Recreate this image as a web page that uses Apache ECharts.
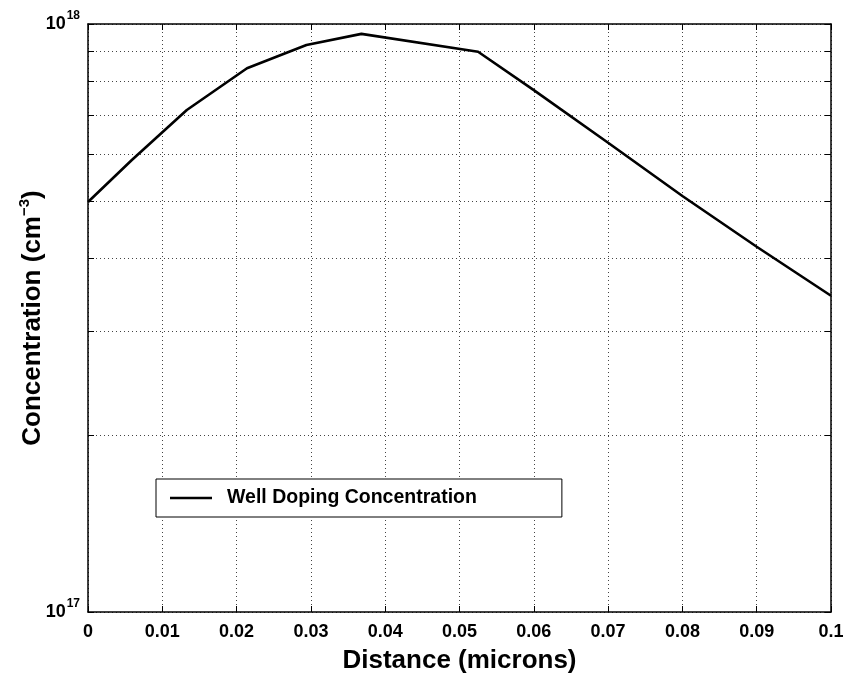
<!DOCTYPE html>
<html>
<head>
<meta charset="utf-8">
<title>Well Doping Concentration</title>
<script src="https://cdn.jsdelivr.net/npm/echarts@6/dist/echarts.min.js"></script>
<style>
  html, body { margin: 0; padding: 0; background: #fff; }
  #chart { width: 844px; height: 679px; }
</style>
</head>
<body>
<div id="chart"></div>
<script>
// Well doping profile: depth (microns) vs. concentration (cm^-3)
const distance = [0, 0.0059, 0.0133, 0.0214, 0.0294, 0.0368, 0.0525, 0.06, 0.07, 0.08, 0.09, 0.1];
const concentration = [4.98e17, 5.87e17, 7.14e17, 8.41e17, 9.21e17, 9.62e17, 8.97e17, 7.72e17, 6.28e17, 5.10e17, 4.18e17, 3.45e17];
const seriesName = 'Well Doping Concentration';
const xTicks = [0, 0.01, 0.02, 0.03, 0.04, 0.05, 0.06, 0.07, 0.08, 0.09, 0.1];
const decadeMin = 1e17;
const decadeMax = 1e18;
// mantissas of the per-decade grid lines (1e17 ... 1e18)
const decadeSteps = [1, 2, 3, 4, 5, 6, 7, 8, 9, 10];

const FONT = '"Liberation Sans", Arial, Helvetica, sans-serif';
const expMin = Math.log10(decadeMin);
const gridExponents = decadeSteps.map(m => expMin + Math.log10(m));

const chart = echarts.init(document.getElementById('chart'), null, { renderer: 'canvas' });

const dotted = { color: '#444', width: 1, type: [1, 3] };
const tickStyle = { show: true, inside: true, length: 6, lineStyle: { color: '#000', width: 1 } };

chart.setOption({
  animation: false,
  backgroundColor: '#fff',
  grid: { left: 88, top: 24, right: 13, bottom: 67, containLabel: false, outerBoundsMode: 'none' },
  legend: {
    show: true,
    left: 156,
    top: 479,
    orient: 'horizontal',
    backgroundColor: '#fff',
    borderColor: '#000',
    borderWidth: 1,
    borderRadius: 0,
    padding: [9, 85, 9, 14],
    itemWidth: 42,
    itemHeight: 20,
    itemGap: 0,
    textStyle: { fontFamily: FONT, fontSize: 19.5, fontWeight: 'bold', color: '#000', padding: [0, 0, 0, 10] },
    data: [{ name: seriesName, icon: 'path://M0,0 L42,0 L42,2.6 L0,2.6 Z' }]
  },
  xAxis: [
    {
      type: 'value',
      min: 0,
      max: 0.1,
      interval: 0.01,
      position: 'bottom',
      name: 'Distance (microns)',
      nameLocation: 'middle',
      nameGap: 36,
      nameMoveOverlap: false,
      nameTextStyle: { fontFamily: FONT, fontSize: 26, fontWeight: 'bold', color: '#000' },
      axisLine: { show: true, onZero: false, lineStyle: { color: '#000', width: 1.5 } },
      axisTick: tickStyle,
      axisLabel: {
        fontFamily: FONT, fontSize: 18, fontWeight: 'bold', color: '#000', margin: 11,
        customValues: xTicks,
        formatter: v => String(+v.toFixed(2))
      },
      splitLine: { show: true, lineStyle: dotted }
    },
    {
      type: 'value',
      min: 0,
      max: 0.1,
      interval: 0.01,
      position: 'top',
      axisLine: { show: true, onZero: false, lineStyle: { color: '#000', width: 1.5 } },
      axisTick: tickStyle,
      axisLabel: { show: false },
      splitLine: { show: false }
    }
  ],
  yAxis: [
    {
      // log axis carrying the data and the decade labels
      type: 'log',
      logBase: 10,
      min: decadeMin,
      max: decadeMax,
      position: 'left',
      name: '{t|Concentration (cm}{s|−3}{t|)}',
      nameLocation: 'middle',
      nameRotate: 90,
      nameGap: 40,
      nameMoveOverlap: false,
      nameTextStyle: {
        rich: {
          t: { fontFamily: FONT, fontSize: 26, fontWeight: 'bold', color: '#000' },
          s: { fontFamily: FONT, fontSize: 15, fontWeight: 'bold', color: '#000', padding: [0, 0, 16, 0] }
        }
      },
      axisLine: { show: true, onZero: false, lineStyle: { color: '#000', width: 1.5 } },
      axisTick: { show: false },
      axisLabel: {
        margin: 8,
        formatter: v => '{b|10}{s|' + Math.round(Math.log10(v)) + '}',
        rich: {
          b: { fontFamily: FONT, fontSize: 18, fontWeight: 'bold', color: '#000' },
          s: { fontFamily: FONT, fontSize: 12, fontWeight: 'bold', color: '#000', padding: [0, 0, 16, 1] }
        }
      },
      splitLine: { show: false }
    },
    {
      // exponent-space axis: inside ticks and dotted grid at 1..9 x 10^17
      type: 'value',
      min: expMin,
      max: expMin + 1,
      position: 'left',
      axisLine: { show: false },
      axisTick: Object.assign({}, tickStyle, { customValues: gridExponents }),
      axisLabel: { show: false, customValues: gridExponents },
      splitLine: { show: true, lineStyle: dotted }
    },
    {
      type: 'value',
      min: expMin,
      max: expMin + 1,
      position: 'right',
      axisLine: { show: true, onZero: false, lineStyle: { color: '#000', width: 1.5 } },
      axisTick: Object.assign({}, tickStyle, { customValues: gridExponents }),
      axisLabel: { show: false, customValues: gridExponents },
      splitLine: { show: false }
    }
  ],
  series: [
    {
      name: seriesName,
      type: 'line',
      xAxisIndex: 0,
      yAxisIndex: 0,
      data: distance.map((d, i) => [d, concentration[i]]),
      symbol: 'none',
      smooth: false,
      clip: true,
      lineStyle: { color: '#000', width: 2.6 },
      itemStyle: { color: '#000' },
      z: 5
    }
  ]
});
</script>
</body>
</html>
